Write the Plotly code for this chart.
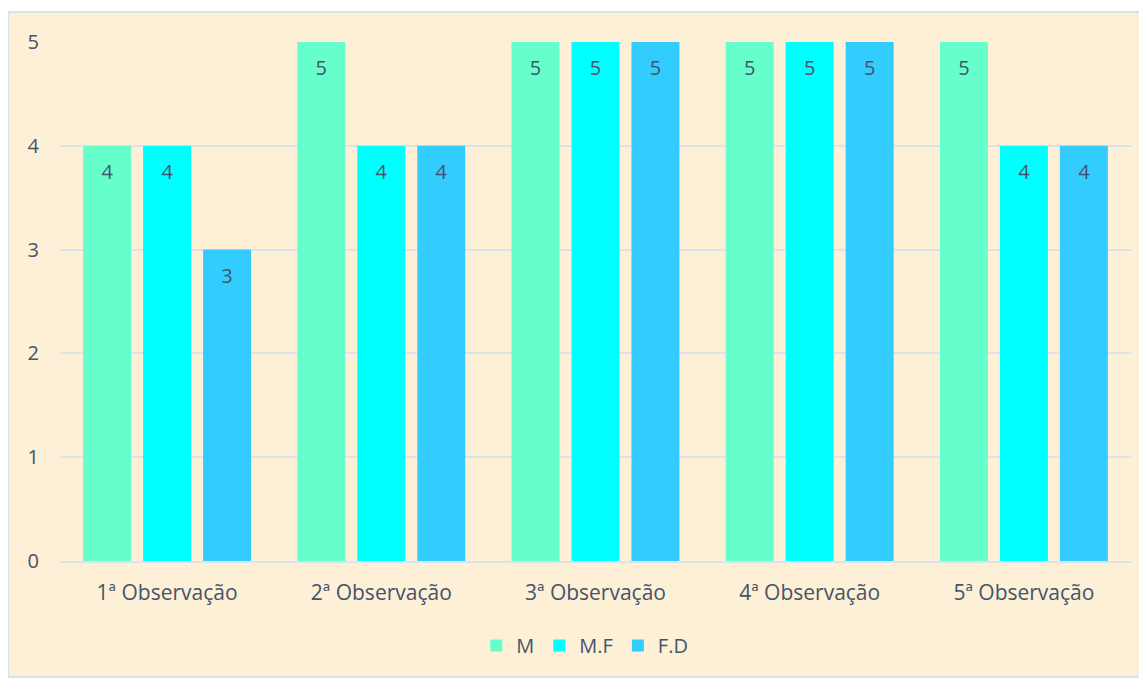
import plotly.graph_objects as go

categories = ['1ª Observação', '2ª Observação', '3ª Observação', '4ª Observação', '5ª Observação']
m_vals = [4, 5, 5, 5, 5]
mf_vals = [4, 4, 5, 5, 4]
fd_vals = [3, 4, 5, 5, 4]
y_ticks = [0, 1, 2, 3, 4, 5]

FONT = 'Open Sans, Noto Sans, sans-serif'
TEXT_COLOR = '#44546A'
LABEL_DROP = 0.27  # label sits this far below bar top (data units)

series = [('M', m_vals, '#66FFCC'), ('M.F', mf_vals, '#00FFFF'), ('F.D', fd_vals, '#33CCFF')]

fig = go.Figure()
for name, vals, color in series:
	fig.add_trace(go.Bar(
		x=categories,
		y=vals,
		name=name,
		marker=dict(color=color, line=dict(width=0)),
		hovertemplate='%{x}<br>' + name + ': %{y}<extra></extra>',
	))
# value labels, grouped like the bars
for name, vals, color in series:
	fig.add_trace(go.Scatter(
		x=categories,
		y=[v - LABEL_DROP for v in vals],
		text=[str(v) for v in vals],
		mode='text',
		textfont=dict(color=TEXT_COLOR, size=20, family=FONT),
		showlegend=False,
		hoverinfo='skip',
	))

# parchment background box with thin border (plot area 60..1131 x 42..561 px on page)
fig.add_shape(
	type='rect', xref='paper', yref='paper',
	x0=(8 - 60) / 1071, x1=(1146 - 60) / 1071,
	y0=(561 - 677) / 519, y1=(561 - 12) / 519,
	fillcolor='#FDF0D6', line=dict(color='#D9E1EA', width=2),
	layer='below',
)

fig.update_layout(
	barmode='group',
	bargap=0.16,
	bargroupgap=0.2,
	scattermode='group',
	scattergap=0.16,
	width=1139,
	height=670,
	margin=dict(l=52, r=16, t=34, b=117),
	paper_bgcolor='white',
	plot_bgcolor='rgba(0,0,0,0)',
	font=dict(family=FONT, color=TEXT_COLOR, size=20),
	legend=dict(
		orientation='h', x=0.49, xanchor='center', y=-0.125, yanchor='top',
		font=dict(size=20, color=TEXT_COLOR), bgcolor='rgba(0,0,0,0)',
		itemwidth=30,
	),
	yaxis=dict(
		range=[0, 5], tickvals=y_ticks, showgrid=True, gridcolor='#DCE3EA', gridwidth=2,
		zeroline=False, showline=False, ticklabelstandoff=20,
		tickfont=dict(size=20, color=TEXT_COLOR),
	),
	xaxis=dict(
		showline=True, linecolor='#DCE3EA', linewidth=2, ticks='', ticklabelstandoff=12,
		tickfont=dict(size=21, color=TEXT_COLOR),
	),
)

fig.write_html('out.html')
